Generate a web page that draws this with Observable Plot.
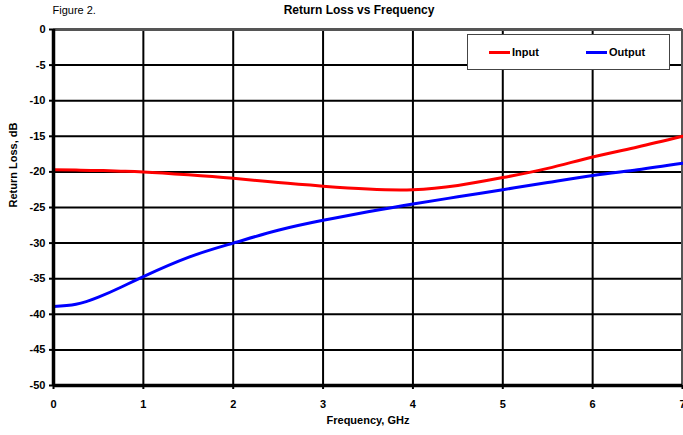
<!DOCTYPE html>
<html>
<head>
<meta charset="utf-8">
<script src="https://cdn.jsdelivr.net/npm/d3@7"></script>
<script src="https://cdn.jsdelivr.net/npm/@observablehq/plot@0.6"></script>
<style>
  body { margin: 0; background: #fff; font-family: "Liberation Sans", Arial, sans-serif; }
  #wrap { position: relative; width: 683px; height: 435px; overflow: hidden; }
  #legend { position: absolute; left: 467px; top: 34px; width: 203px; height: 36px; box-sizing: border-box;
            border: 1px solid #444; background: #fff; font: bold 11px "Liberation Sans", Arial, sans-serif; color: #000; }
  .item { position: absolute; top: 11px; display: flex; align-items: center; }
  .sw { width: 21px; height: 3px; margin-right: 2px; }
</style>
</head>
<body>
<div id="wrap"></div>
<script>
const freq = [0, 0.25, 0.5, 0.75, 1, 1.5, 2, 2.5, 3, 3.5, 4, 4.5, 5, 5.5, 6, 6.5, 7];
const inputDb = [-19.7, -19.75, -19.8, -19.9, -20.0, -20.4, -20.9, -21.5, -22.0, -22.4, -22.5, -21.9, -20.8, -19.5, -17.9, -16.5, -15.0];
const outputDb = [-38.9, -38.6, -37.6, -36.2, -34.7, -32.0, -30.0, -28.2, -26.8, -25.6, -24.5, -23.5, -22.5, -21.5, -20.5, -19.7, -18.8];
const seriesNames = ["Input", "Output"];
const seriesColors = ["#ff0000", "#0000ff"];
const xTicks = [0, 1, 2, 3, 4, 5, 6, 7];
const yTicks = [0, -5, -10, -15, -20, -25, -30, -35, -40, -45, -50];
const titleText = "Return Loss vs Frequency";
const figureText = "Figure 2.";
const xLabel = "Frequency, GHz";
const yLabel = "Return Loss, dB";

const rows = [];
freq.forEach((f, i) => {
  rows.push({ f, db: inputDb[i], s: seriesNames[0] });
  rows.push({ f, db: outputDb[i], s: seriesNames[1] });
});

const font = "'Liberation Sans', Arial, sans-serif";
const fmt = d => String(d);
const chart = Plot.plot({
  width: 683,
  height: 435,
  marginLeft: 53,
  marginRight: 1,
  marginTop: 29,
  marginBottom: 50,
  style: { fontFamily: font, fontSize: "11px", fontWeight: "bold", color: "#000", background: "#fff", overflow: "visible" },
  x: { domain: [0, 7] },
  y: { domain: [-50, 0] },
  color: { domain: seriesNames, range: seriesColors },
  marks: [
    Plot.gridX(xTicks.filter(d => d > 0 && d < 7), { stroke: "#000", strokeOpacity: 1, strokeWidth: 2 }),
    Plot.gridY(yTicks.filter(d => d < 0 && d > -50), { stroke: "#000", strokeOpacity: 1, strokeWidth: 2 }),
    Plot.ruleY([0], { stroke: "#555", strokeWidth: 3 }),
    Plot.ruleX([7], { stroke: "#555", strokeWidth: 3 }),
    Plot.line(rows, { x: "f", y: "db", z: "s", stroke: "s", strokeWidth: 3, curve: "natural" }),
    Plot.ruleX([0], { stroke: "#000", strokeWidth: 3.5 }),
    Plot.ruleY([-50], { stroke: "#000", strokeWidth: 3.5 }),
    Plot.axisX({ ticks: xTicks, tickFormat: fmt, tickSize: 4, tickPadding: 11, stroke: "#000", strokeWidth: 2, label: null, fontWeight: "bold" }),
    Plot.axisY({ ticks: yTicks, tickFormat: fmt, tickSize: 4, tickPadding: 4, stroke: "#000", strokeWidth: 2, label: null, fontWeight: "bold" }),
    Plot.text([titleText], { frameAnchor: "top", dx: -9, dy: -24, fontSize: 12, fontWeight: "bold", fill: "#000" }),
    Plot.text([figureText], { frameAnchor: "top-left", dx: -1, dy: -23, fontSize: 11, fontWeight: "normal", fill: "#000", textAnchor: "start" }),
    Plot.text([xLabel], { frameAnchor: "bottom", dy: 38, fontSize: 11, fontWeight: "bold", fill: "#000" }),
    Plot.text([yLabel], { frameAnchor: "left", dx: -40, rotate: -90, fontSize: 11, fontWeight: "bold", fill: "#000" })
  ]
});
const wrap = document.getElementById("wrap");
wrap.appendChild(chart);

const legend = document.createElement("div");
legend.id = "legend";
const lefts = [21, 118];
seriesNames.forEach((name, i) => {
  const it = document.createElement("div");
  it.className = "item";
  it.style.left = lefts[i] + "px";
  const sw = document.createElement("span");
  sw.className = "sw";
  sw.style.background = seriesColors[i];
  const t = document.createElement("span");
  t.textContent = name;
  it.appendChild(sw); it.appendChild(t);
  legend.appendChild(it);
});
wrap.appendChild(legend);
</script>
</body>
</html>
